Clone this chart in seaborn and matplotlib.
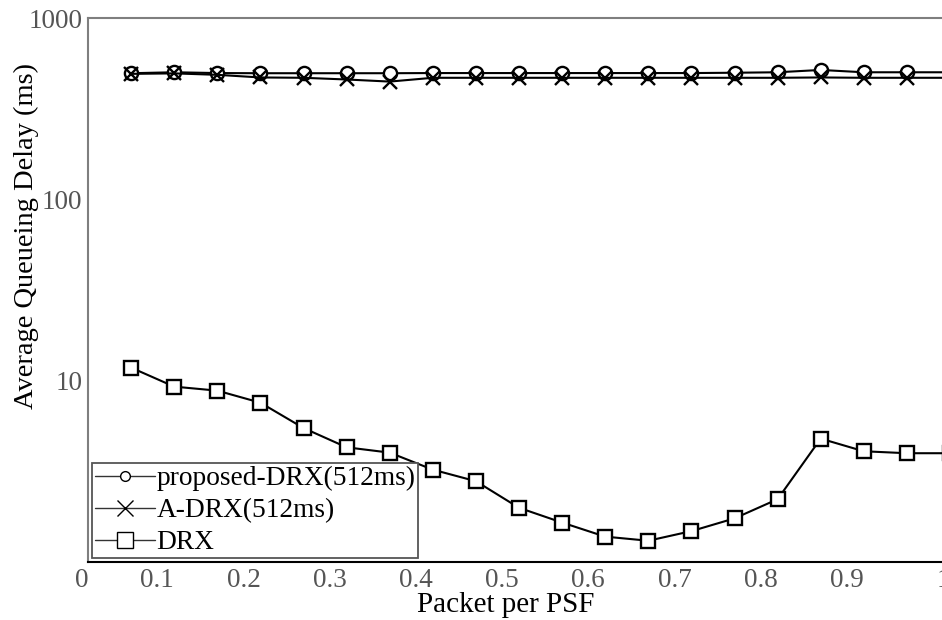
import numpy as np
import pandas as pd
import matplotlib
matplotlib.use("Agg")
import matplotlib.pyplot as plt
from matplotlib.ticker import NullLocator
import seaborn as sns

# Offered load (packets per PSF) and average queueing delay (ms) per scheme
packet_rate = [0.05, 0.10, 0.15, 0.20, 0.25, 0.30, 0.35, 0.40, 0.45, 0.50,
               0.55, 0.60, 0.65, 0.70, 0.75, 0.80, 0.85, 0.90, 0.95, 1.00]
proposed_drx = [496, 502, 497, 496, 496, 496, 496, 497, 497, 497,
                497, 497, 497, 497, 499, 502, 517, 502, 502, 502]
a_drx = [492, 495, 486, 470, 468, 458, 446, 468, 468, 468,
         468, 468, 468, 468, 468, 468, 470, 468, 468, 468]
drx = [11.8, 9.27, 8.81, 7.56, 5.48, 4.29, 4.01, 3.23, 2.79, 1.99,
       1.65, 1.38, 1.31, 1.48, 1.74, 2.22, 4.79, 4.08, 3.98, 3.98]

series_labels = ["proposed-DRX(512ms)", "A-DRX(512ms)", "DRX"]
x_tick_values = [0, 0.1, 0.2, 0.3, 0.4, 0.5, 0.6, 0.7, 0.8, 0.9, 1]
x_tick_labels = ["0", "0.1", "0.2", "0.3", "0.4", "0.5", "0.6", "0.7", "0.8", "0.9", "1"]
y_tick_values = [10, 100, 1000]
y_tick_labels = ["10", "100", "1000"]

sns.set_theme(style="white")
plt.rcParams["font.family"] = ["Liberation Serif", "DejaVu Serif"]

fig = plt.figure(figsize=(9.42, 6.2), dpi=100)
ax = fig.add_axes([88 / 942, 58 / 620, 862 / 942, 544 / 620])

style = dict(color="black", linewidth=1.5, markerfacecolor="white",
             markeredgecolor="black", markeredgewidth=1.7)
sns.lineplot(x=packet_rate, y=proposed_drx, ax=ax, marker="o", markersize=9.5,
             label=series_labels[0], **style)
sns.lineplot(x=packet_rate, y=a_drx, ax=ax, marker="x", markersize=10,
             label=series_labels[1], **style)
sns.lineplot(x=packet_rate, y=drx, ax=ax, marker="s", markersize=9.5,
             label=series_labels[2], **style)

ax.set_yscale("log")
ax.set_ylim(1, 1000)
ax.set_xlim(0, 1)
ax.set_yticks(y_tick_values)
ax.set_yticklabels(y_tick_labels)
ax.yaxis.set_minor_locator(NullLocator())
ax.set_xticks(x_tick_values)
ax.set_xticklabels(x_tick_labels, ha="right")
ax.tick_params(axis="both", length=0, labelsize=19.5, labelcolor="#555555", pad=4)

ax.set_xlabel("Packet per PSF", fontsize=21, color="black")
ax.set_ylabel("Average Queueing Delay (ms)", fontsize=20.5, color="black")
ax.xaxis.set_label_coords(0.484, -0.055)
ax.yaxis.set_label_coords(-0.057, 0.60)

for side in ("left", "top"):
    ax.spines[side].set_color("#7f7f7f")
    ax.spines[side].set_linewidth(1.5)
ax.spines["bottom"].set_color("black")
ax.spines["bottom"].set_linewidth(1.5)
ax.spines["right"].set_visible(False)

leg = ax.legend(loc="lower left", fontsize=19.7, frameon=True, fancybox=False,
                edgecolor="#555555", framealpha=1, borderaxespad=0.15,
                borderpad=0.1, labelspacing=0.25, handlelength=2.2,
                handletextpad=0.05)
leg.get_frame().set_linewidth(1.3)
for handle, ms in zip(leg.legend_handles, (7, 12, 12)):
    handle.set_markersize(ms)
    handle.set_linewidth(1.0)
    handle.set_color("#333333")
    handle.set_markeredgewidth(1.0)
for text in leg.get_texts():
    text.set_color("black")

fig.savefig("out.png", dpi=100)
